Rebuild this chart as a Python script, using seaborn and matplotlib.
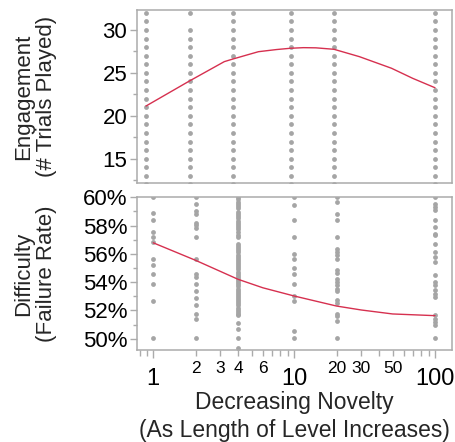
import numpy as np
import pandas as pd
import matplotlib
matplotlib.use("Agg")
import matplotlib.pyplot as plt
import matplotlib.ticker as mticker
import seaborn as sns

# ---------------- data ----------------
levels = [1, 2, 4, 10, 20, 100]

# Engagement (# trials played): integer values present in each column
eng_1 = list(range(12, 33))
eng_2 = [v for v in range(12, 33) if v != 31]
eng_4 = list(range(12, 33))
eng_10 = list(range(12, 33))
eng_20 = list(range(12, 33))
eng_100 = list(range(12, 33))

# Engagement fitted curve
eng_fit_x = [1, 2, 3.48, 4, 5, 6, 8, 10, 12.3, 15, 20, 30, 50, 70, 100]
eng_fit_y = [21.14, 24.06, 26.31, 26.62, 27.09, 27.47, 27.72, 27.87, 27.94,
             27.92, 27.75, 26.89, 25.54, 24.37, 23.27]

# Difficulty (failure rate, %)
dif_1 = [60.0, 58.88, 58.37, 57.54, 57.19, 56.83, 55.61, 55.23, 54.6, 53.89,
         52.66, 50.05]
dif_2 = [60.0, 59.5, 59.02, 58.84, 58.18, 58.01, 57.85, 57.19, 55.61, 54.6,
         54.36, 53.89, 53.37, 52.88, 52.4, 51.77, 51.41, 50.05]
dif_4 = [60.0, 59.85, 59.7, 59.55, 59.4, 59.25, 58.95, 58.8, 58.65, 58.5,
         58.35, 58.2, 58.05, 57.9, 57.78, 57.54, 57.35, 57.19, 56.71, 56.55,
         56.4, 56.25, 56.1, 55.95, 55.8, 55.65, 55.5, 55.35, 55.2, 55.05,
         54.9, 54.75, 54.6, 54.45, 54.3, 54.15, 54.0, 53.85, 53.7, 53.55,
         53.4, 53.25, 53.1, 52.95, 52.8, 52.65, 52.5, 52.35, 52.2, 52.05,
         51.9, 51.75, 51.65, 51.13, 50.66, 50.05, 49.34]
dif_10 = [60.0, 59.43, 58.37, 57.19, 55.96, 55.61, 55.0, 54.6, 53.89, 53.02,
          52.66, 50.52, 50.05]
dif_20 = [60.0, 59.66, 58.84, 58.37, 57.19, 56.32, 56.13, 55.89, 55.65, 54.88,
          54.64, 54.2, 54.01, 53.77, 53.53, 53.37, 52.71, 52.55, 51.77, 51.6,
          51.25, 50.05]
dif_100 = [60.0, 59.54, 59.31, 59.07, 58.37, 57.9, 57.42, 57.31, 56.71, 56.13,
           55.77, 55.42, 54.48, 54.01, 53.77, 53.42, 53.18, 52.95, 51.65, 51.41,
           51.18, 50.99, 50.05]

dif_fit_x = [1, 2, 4, 6, 10, 20, 30, 50, 100]
dif_fit_y = [56.78, 55.54, 54.2, 53.6, 53.02, 52.31, 52.03, 51.75, 51.63]

eng_major = [15, 20, 25, 30]
eng_minor = [12.5, 17.5, 22.5, 27.5]
dif_major = [50, 52, 54, 56, 58, 60]
dif_minor = [51, 53, 55, 57, 59]
x_major = [1, 10, 100]
x_minor = [0.8, 0.9, 2, 3, 4, 5, 6, 7, 8, 9, 20, 30, 40, 50, 60, 70, 80, 90]
x_minor_labels = ["", "", "2", "3", "4", "", "6", "", "", "", "20", "30", "",
                  "50", "", "", "", ""]

# ---------------- frames ----------------
eng_cols = [eng_1, eng_2, eng_4, eng_10, eng_20, eng_100]
dif_cols = [dif_1, dif_2, dif_4, dif_10, dif_20, dif_100]
eng_df = pd.DataFrame({"x": np.concatenate([[lv] * len(c) for lv, c in zip(levels, eng_cols)]),
                       "y": np.concatenate(eng_cols)})
dif_df = pd.DataFrame({"x": np.concatenate([[lv] * len(c) for lv, c in zip(levels, dif_cols)]),
                       "y": np.concatenate(dif_cols)})
eng_fit = pd.DataFrame({"x": eng_fit_x, "y": eng_fit_y})
dif_fit = pd.DataFrame({"x": dif_fit_x, "y": dif_fit_y})

# ---------------- style ----------------
sns.set_theme(style="ticks")
plt.rcParams["font.family"] = ["Liberation Sans", "DejaVu Sans"]
FRAME = "#ababab"
DOT = "#a5a5a5"
LINE = "#d6304f"

fig = plt.figure(figsize=(4.56, 4.42), dpi=100)
ax1 = fig.add_axes([0.3004, 0.5860, 0.6908, 0.3914])
ax2 = fig.add_axes([0.3004, 0.2081, 0.6908, 0.3462])

for ax, df, fit in [(ax1, eng_df, eng_fit), (ax2, dif_df, dif_fit)]:
    ax.set_xscale("log")
    sns.scatterplot(data=df, x="x", y="y", ax=ax, color=DOT, s=12,
                    linewidth=0, zorder=2, legend=False)
    sns.lineplot(data=fit, x="x", y="y", ax=ax, color=LINE, linewidth=1.0,
                 zorder=3, legend=False)
    for sp in ax.spines.values():
        sp.set_visible(True)
        sp.set_color(FRAME)
        sp.set_linewidth(1.1)
    ax.set_xlabel("")
    ax.set_ylabel("")
    ax.tick_params(which="both", color=FRAME, width=1.0, labelcolor="black")
    ax.tick_params(axis="y", which="major", length=5, labelsize=16, pad=2)
    ax.tick_params(axis="y", which="minor", length=3)

# top panel
ax1.set_xlim(0.866, 131.1)
ax1.set_ylim(12.17, 32.33)
ax1.xaxis.set_major_locator(mticker.NullLocator())
ax1.xaxis.set_minor_locator(mticker.NullLocator())
ax1.set_yticks(eng_major)
ax1.set_yticks(eng_minor, minor=True)
ax1.set_yticklabels([str(v) for v in eng_major])
ax1.set_ylabel("Engagement\n(# Trials Played)", fontsize=16, linespacing=1.1)
ax1.yaxis.set_label_coords(-0.255, 0.5)

# bottom panel
ax2.set_xlim(0.766, 132.1)
ax2.set_ylim(49.2, 60.02)
ax2.set_yticks(dif_major)
ax2.set_yticks(dif_minor, minor=True)
ax2.set_yticklabels([f"{v}%" for v in dif_major])
ax2.xaxis.set_major_locator(mticker.FixedLocator(x_major))
ax2.xaxis.set_major_formatter(mticker.FixedFormatter([str(v) for v in x_major]))
ax2.xaxis.set_minor_locator(mticker.FixedLocator(x_minor))
ax2.xaxis.set_minor_formatter(mticker.FixedFormatter(x_minor_labels))
ax2.tick_params(axis="x", which="major", length=6, labelsize=17, pad=7)
ax2.tick_params(axis="x", which="minor", length=4, labelsize=12.5, pad=4)
ax2.set_ylabel("Difficulty\n(Failure Rate)", fontsize=16, linespacing=1.1)
ax2.yaxis.set_label_coords(-0.255, 0.5)
ax2.set_xlabel("Decreasing Novelty\n(As Length of Level Increases)", fontsize=16.5,
               linespacing=1.25)
ax2.xaxis.set_label_coords(0.5, -0.27)

fig.savefig("out.png", dpi=100)
